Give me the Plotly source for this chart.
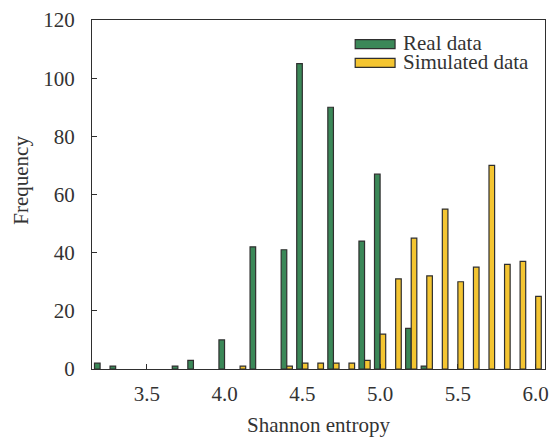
import plotly.graph_objects as go

bins = [round(3.2 + 0.1 * i, 1) for i in range(29)]
real_data = [2, 1, 0, 0, 0, 1, 3, 0, 10, 0, 42, 0, 41, 105, 0, 90, 0, 44, 67, 0, 14, 1, 0, 0, 0, 0, 0, 0, 0]
sim_data = [0, 0, 0, 0, 0, 0, 0, 0, 0, 1, 0, 0, 1, 2, 2, 2, 2, 3, 12, 31, 45, 32, 55, 30, 35, 70, 36, 37, 25]
x_ticks = [3.5, 4.0, 4.5, 5.0, 5.5, 6.0]
y_ticks = [0, 20, 40, 60, 80, 100, 120]
series_names = ["Real data", "Simulated data"]

GREEN = "#3b8858"
YELLOW = "#f4c531"
EDGE = "#2f2f2f"
TXT = "#333333"
FONT = "Liberation Serif"
FS = 21


def nz(vals):
    # empty bins are not drawn in the reference
    return [v if v else None for v in vals]


fig = go.Figure()
fig.add_trace(go.Bar(x=bins, y=nz(real_data), name=series_names[0],
                     marker=dict(color=GREEN, line=dict(color=EDGE, width=1.2)),
                     showlegend=False))
fig.add_trace(go.Bar(x=bins, y=nz(sim_data), name=series_names[1],
                     marker=dict(color=YELLOW, line=dict(color=EDGE, width=1.2)),
                     showlegend=False))

# legend drawn manually (swatches + text)
for i, (nm, col) in enumerate(zip(series_names, [GREEN, YELLOW])):
    y0 = 0.931 - i * 0.054
    fig.add_shape(type="rect", xref="paper", yref="paper",
                  x0=0.581, x1=0.669, y0=y0 - 0.013, y1=y0 + 0.013,
                  fillcolor=col, line=dict(color=EDGE, width=1.2))
    fig.add_annotation(xref="paper", yref="paper", x=0.682, y=y0 + 0.004,
                       text=nm, showarrow=False, xanchor="left", yanchor="middle",
                       height=18,
                       font=dict(family=FONT, size=FS, color=TXT))

# axis titles
fig.add_annotation(xref="paper", yref="paper", x=0.5, y=-0.16,
                   text="Shannon entropy", showarrow=False,
                   xanchor="center", yanchor="middle",
                   font=dict(family=FONT, size=FS, color=TXT))
fig.add_annotation(xref="paper", yref="paper", x=-0.157, y=0.542,
                   text="Frequency", showarrow=False, textangle=-90,
                   xanchor="center", yanchor="middle",
                   font=dict(family=FONT, size=FS, color=TXT))

fig.update_layout(
    width=549, height=437,
    margin=dict(l=92, r=4, t=20, b=68),
    paper_bgcolor="white", plot_bgcolor="white",
    barmode="group", bargap=0.28, bargroupgap=0,
    font=dict(family=FONT, size=FS, color=TXT),
    xaxis=dict(range=[3.148, 6.06], tickvals=x_ticks, tickformat=".1f",
               ticks="inside", ticklen=5, tickcolor=EDGE, automargin=False,
               showline=True, linecolor=EDGE, linewidth=1.2, mirror=True,
               showgrid=False, zeroline=False, ticklabelstandoff=6),
    yaxis=dict(range=[0, 120], tickvals=y_ticks,
               ticks="inside", ticklen=5, tickcolor=EDGE, automargin=False,
               showline=True, linecolor=EDGE, linewidth=1.2, mirror=True,
               showgrid=False, zeroline=False, ticklabelstandoff=12),
)

fig.write_html("out.html", config={"displayModeBar": False},
               post_script="document.body.style.margin='0';document.body.style.padding='0';")
